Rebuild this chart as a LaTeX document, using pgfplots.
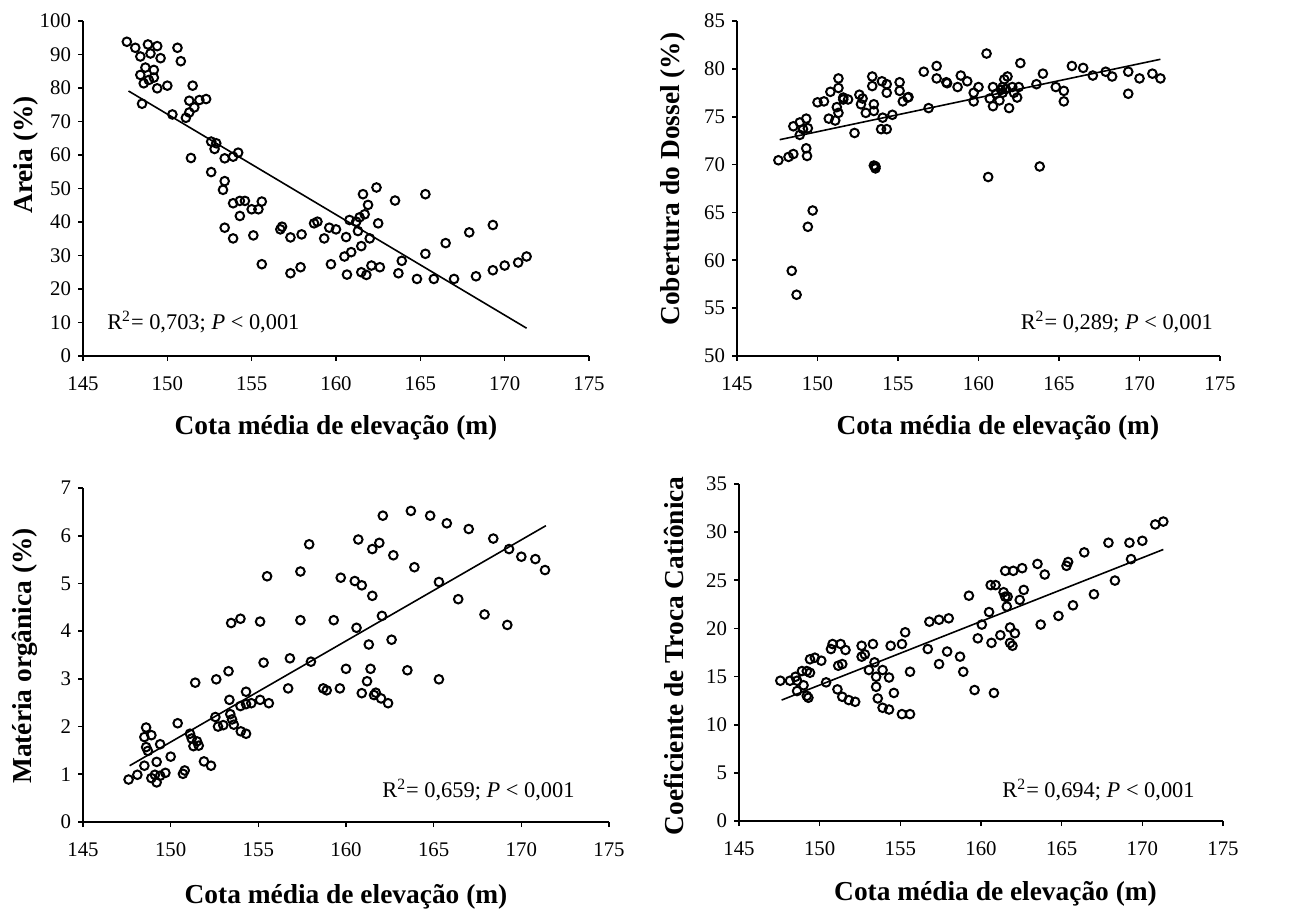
\documentclass[border=0pt]{standalone}
\usepackage{fontspec}
\setmainfont{Liberation Serif}
\usepackage{pgfplots}
\pgfplotsset{compat=1.18}
\tikzset{rtxt/.style={font=\fontsize{11.2}{13}\selectfont}}
\pgfplotsset{
  myax/.style={
    scale only axis,
    axis x line=bottom, axis y line=left,
    axis line style={-, line width=1pt},
    tick style={line width=0.8pt, black},
    major tick length=2.5pt,
    tick align=outside,
    xmin=145, xmax=175, xtick={145,150,...,175},
    tick label style={font=\fontsize{10.4}{12}\selectfont, /pgf/number format/assume math mode=true},
    xticklabel shift=4.5pt,
    label style={font=\fontsize{13.7}{15}\selectfont\bfseries},
    xlabel={Cota média de elevação (m)},
    clip=false,
  },
  pts/.style={only marks, mark=o, mark size=2.15pt, mark options={line width=1pt, black}},
  fit/.style={black, line width=0.8pt, no marks},
}
\begin{document}
\begin{tikzpicture}
\useasboundingbox (0,0) rectangle (647.5pt,455.5pt);
% Panel 1
\begin{axis}[myax, at={(41.5pt,277.5pt)}, anchor=origin, width=253pt, height=167.5pt,
  ymin=0, ymax=100, ytick={0,10,...,100},
  ylabel={Areia (\%)},
  ylabel style={at={(axis description cs:-0.1126,0.6)}, anchor=center},
  xlabel style={at={(axis description cs:0.5,0)}, anchor=base, yshift=-39.5pt}]
\addplot[pts] table[row sep=\\] {
x y\\
147.6 93.8\\ 148.1 92.0\\ 148.4 89.4\\ 148.85 93.0\\ 149.4 92.5\\ 149.0 90.3\\ 149.6 88.9\\ 148.7 86.1\\ 149.2 85.4\\ 148.4 83.9\\
148.9 82.4\\ 149.2 83.1\\ 148.6 81.4\\ 149.4 79.9\\ 150.0 80.7\\ 148.5 75.3\\ 150.6 92.0\\ 150.8 88.0\\ 150.3 72.1\\ 151.5 80.7\\
151.3 76.2\\ 151.9 76.4\\ 152.3 76.7\\ 151.6 74.2\\ 151.3 72.7\\ 151.1 71.1\\ 152.6 64.0\\ 152.9 63.5\\ 152.8 61.8\\ 154.2 60.7\\
153.4 59.0\\ 153.9 59.5\\ 151.4 59.1\\ 152.6 54.9\\ 153.4 52.2\\ 153.3 49.6\\ 153.9 45.6\\ 154.3 46.3\\ 154.6 46.3\\ 154.3 41.8\\
155.0 43.8\\ 155.4 43.8\\ 155.6 46.1\\ 153.4 38.3\\ 153.9 35.1\\ 155.1 36.0\\ 155.6 27.4\\ 156.8 38.6\\ 156.7 37.8\\ 157.3 35.4\\
157.96 36.3\\ 157.3 24.7\\ 157.9 26.5\\ 158.7 39.6\\ 158.9 40.1\\ 159.3 35.1\\ 159.6 38.3\\ 160.0 37.8\\ 160.6 35.5\\ 159.7 27.4\\
160.5 29.7\\ 160.9 31.0\\ 160.65 24.3\\ 160.8 40.6\\ 161.2 40.1\\ 161.4 41.4\\ 161.7 42.3\\ 161.9 45.1\\ 161.6 48.3\\ 162.4 50.3\\
161.3 37.3\\ 161.5 32.8\\ 162.0 35.1\\ 162.5 39.6\\ 161.5 25.0\\ 161.8 24.2\\ 162.1 27.0\\ 162.6 26.5\\ 163.5 46.4\\ 163.9 28.4\\
163.7 24.7\\ 164.8 23.0\\ 165.3 48.3\\ 165.3 30.5\\ 165.8 23.0\\ 166.5 33.7\\ 167.0 23.0\\ 167.9 36.9\\ 168.3 23.8\\ 169.3 39.1\\
169.3 25.6\\ 170.0 27.0\\ 170.8 27.9\\ 171.3 29.7\\
};
\addplot[fit] coordinates {(147.7,79.1) (171.3,8.3)};
\node[rtxt, anchor=west] at (rel axis cs:0.034,0.1) {R\textsuperscript{2}= 0,703; \textit{P} < 0,001};
\end{axis}
% Panel 2
\begin{axis}[myax, at={(368.5pt,277.5pt)}, anchor=origin, width=241.5pt, height=167.5pt,
  ymin=50, ymax=85, ytick={50,55,...,85},
  ylabel={Cobertura do Dossel (\%)},
  ylabel style={at={(axis description cs:-0.1325,0.528)}, anchor=center},
  xlabel style={at={(axis description cs:0.54,0)}, anchor=base, yshift=-39.5pt}]
\addplot[pts] table[row sep=\\] {
x y\\
147.57 70.45\\ 148.2 70.8\\ 148.5 71.1\\ 148.5 74.0\\ 148.9 74.4\\ 149.3 74.8\\ 149.1 73.7\\ 149.4 73.8\\ 148.9 73.1\\ 149.3 71.7\\
149.35 70.9\\ 149.7 65.2\\ 149.4 63.5\\ 148.4 58.9\\ 148.7 56.4\\ 150.0 76.5\\ 150.4 76.6\\ 150.7 74.8\\ 150.8 77.6\\ 151.1 74.6\\
151.2 76.0\\ 151.3 78.0\\ 151.3 79.0\\ 151.3 75.4\\ 151.6 77.0\\ 151.9 76.8\\ 151.6 76.8\\ 152.3 73.3\\ 152.6 77.3\\ 152.7 76.3\\
153.0 75.4\\ 152.8 76.9\\ 153.4 79.2\\ 153.4 78.2\\ 153.5 76.3\\ 153.5 75.6\\ 153.6 69.8\\ 153.6 69.6\\ 153.5 69.9\\ 154.0 78.7\\
154.3 78.4\\ 154.3 77.5\\ 154.05 74.9\\ 153.95 73.7\\ 154.3 73.7\\ 154.65 75.2\\ 155.1 78.6\\ 155.1 77.7\\ 155.3 76.6\\ 155.6 77.0\\
155.65 77.05\\ 156.6 79.7\\ 156.9 75.9\\ 157.4 80.3\\ 157.4 79.0\\ 158.0 78.6\\ 158.05 78.5\\ 158.7 78.1\\ 158.9 79.3\\ 159.3 78.7\\
159.7 77.5\\ 159.7 76.6\\ 160.0 78.1\\ 160.5 81.6\\ 160.6 68.7\\ 160.7 76.9\\ 160.9 78.1\\ 160.9 76.1\\ 161.1 77.4\\ 161.3 76.7\\
161.4 77.8\\ 161.5 78.1\\ 161.5 77.5\\ 161.6 78.9\\ 161.8 79.2\\ 161.7 77.9\\ 161.9 75.9\\ 162.1 78.1\\ 162.2 77.5\\ 162.4 77.0\\
162.5 78.1\\ 162.6 80.6\\ 163.6 78.4\\ 163.8 69.8\\ 164.0 79.5\\ 164.8 78.1\\ 165.3 77.7\\ 165.3 76.6\\ 165.8 80.3\\ 166.5 80.1\\
167.1 79.3\\ 167.9 79.7\\ 168.3 79.2\\ 169.3 79.7\\ 169.3 77.4\\ 170.0 79.0\\ 170.8 79.5\\ 171.3 79.0\\
};
\addplot[fit] coordinates {(147.65,72.6) (171.3,81.0)};
\node[rtxt, anchor=east] at (rel axis cs:1.0,0.1) {R\textsuperscript{2}= 0,289; \textit{P} < 0,001};
\end{axis}
% Panel 3
\begin{axis}[myax, at={(41.5pt,44.5pt)}, anchor=origin, width=263pt, height=167pt,
  ymin=0, ymax=7, ytick={0,1,...,7},
  ylabel={Matéria orgânica (\%)},
  ylabel style={at={(axis description cs:-0.11,0.497)}, anchor=center},
  xlabel style={at={(axis description cs:0.5,0)}, anchor=base, yshift=-40.5pt}]
\addplot[pts] table[row sep=\\] {
x y\\
147.6 0.89\\ 148.1 0.99\\ 148.5 1.18\\ 148.9 0.92\\ 149.1 0.99\\ 149.2 0.83\\ 149.4 0.97\\ 149.7 1.03\\ 149.2 1.26\\ 148.6 1.98\\
148.5 1.78\\ 148.9 1.82\\ 148.6 1.57\\ 148.7 1.49\\ 149.4 1.63\\ 150.0 1.37\\ 150.4 2.07\\ 150.7 1.01\\ 150.8 1.08\\ 151.1 1.85\\
151.2 1.75\\ 151.3 1.59\\ 151.5 1.69\\ 151.6 1.60\\ 151.4 2.92\\ 151.9 1.27\\ 152.3 1.18\\ 152.55 2.2\\ 152.7 2.0\\ 153.0 2.03\\
152.6 2.99\\ 153.3 3.16\\ 153.35 2.56\\ 153.4 2.26\\ 153.5 2.15\\ 153.6 2.04\\ 154.0 1.90\\ 154.3 1.85\\ 153.45 4.17\\ 153.98 4.26\\
153.98 2.43\\ 154.3 2.73\\ 154.3 2.47\\ 154.6 2.49\\ 155.1 2.56\\ 155.6 2.49\\ 155.3 3.34\\ 155.1 4.2\\ 155.5 5.15\\ 156.7 2.8\\
156.8 3.43\\ 157.4 4.23\\ 157.4 5.25\\ 157.9 5.82\\ 158.0 3.36\\ 158.7 2.8\\ 158.9 2.76\\ 159.65 2.8\\ 159.3 4.23\\ 159.7 5.12\\
160.0 3.21\\ 160.5 5.05\\ 160.9 4.96\\ 160.7 5.92\\ 160.6 4.07\\ 160.9 2.7\\ 161.2 2.95\\ 161.3 3.72\\ 161.4 3.21\\ 161.5 4.74\\
161.5 5.72\\ 161.9 5.85\\ 161.6 2.66\\ 161.7 2.71\\ 162.0 2.59\\ 162.05 4.32\\ 162.1 6.42\\ 162.4 2.49\\ 162.6 3.82\\ 162.7 5.59\\
163.5 3.18\\ 163.7 6.52\\ 163.9 5.34\\ 164.8 6.42\\ 165.3 5.03\\ 165.3 2.99\\ 165.75 6.26\\ 166.4 4.67\\ 167.0 6.14\\ 167.9 4.35\\
168.4 5.94\\ 169.2 4.13\\ 169.3 5.72\\ 170.0 5.56\\ 170.8 5.51\\ 171.35 5.28\\
};
\addplot[fit] coordinates {(147.66,1.18) (171.4,6.21)};
\node[rtxt, anchor=east] at (rel axis cs:0.948,0.096) {R\textsuperscript{2}= 0,659; \textit{P} < 0,001};
\end{axis}
% Panel 4
\begin{axis}[myax, at={(369.5pt,45pt)}, anchor=origin, width=242pt, height=168.5pt,
  ymin=0, ymax=35, ytick={0,5,...,35},
  ylabel={Coeficiente de Troca Catiônica},
  ylabel style={at={(axis description cs:-0.134,0.49)}, anchor=center},
  xlabel style={at={(axis description cs:0.53,0)}, anchor=base, yshift=-39.5pt}]
\addplot[pts] table[row sep=\\] {
x y\\
147.56 14.57\\ 148.16 14.57\\ 148.5 14.98\\ 148.6 14.57\\ 148.9 15.57\\ 149.2 15.57\\ 149.4 15.4\\ 149.0 14.1\\ 148.6 13.5\\ 149.2 13.0\\
149.3 12.8\\ 149.4 16.8\\ 149.7 16.96\\ 150.1 16.65\\ 150.4 14.4\\ 150.7 17.86\\ 150.8 18.38\\ 151.3 18.38\\ 151.6 17.76\\ 151.15 16.13\\
151.4 16.3\\ 151.1 13.67\\ 151.4 12.9\\ 151.8 12.56\\ 152.2 12.38\\ 152.6 18.2\\ 152.6 17.07\\ 152.8 17.3\\ 153.05 15.68\\ 153.3 18.38\\
153.4 16.48\\ 153.5 14.98\\ 153.5 13.94\\ 153.6 12.73\\ 153.9 15.68\\ 154.3 14.9\\ 153.9 11.76\\ 154.3 11.58\\ 154.4 18.2\\ 154.6 13.3\\
155.1 11.1\\ 155.6 11.1\\ 155.1 18.38\\ 155.3 19.6\\ 155.6 15.5\\ 156.7 17.86\\ 156.8 20.7\\ 157.4 20.9\\ 158.0 21.05\\ 157.4 16.3\\
157.9 17.6\\ 158.7 17.07\\ 158.9 15.5\\ 159.25 23.4\\ 159.6 13.6\\ 159.8 18.97\\ 160.05 20.4\\ 160.5 21.7\\ 160.6 24.5\\ 160.9 24.5\\
160.65 18.5\\ 160.8 13.3\\ 161.2 19.3\\ 161.4 23.76\\ 161.5 25.98\\ 161.5 23.3\\ 161.6 22.27\\ 161.65 23.3\\ 161.8 20.1\\ 161.8 18.5\\
161.95 18.2\\ 162.1 19.5\\ 162.0 25.98\\ 162.4 22.96\\ 162.55 26.26\\ 162.65 24.0\\ 163.5 26.7\\ 163.7 20.4\\ 163.95 25.6\\ 164.8 21.3\\
165.3 26.5\\ 165.4 26.9\\ 165.7 22.4\\ 166.4 27.9\\ 167.0 23.55\\ 167.9 28.9\\ 168.3 24.97\\ 169.2 28.9\\ 169.3 27.2\\ 170.0 29.1\\
170.8 30.8\\ 171.3 31.1\\
};
\addplot[fit] coordinates {(147.64,12.56) (171.3,28.2)};
\node[rtxt, anchor=east] at (rel axis cs:0.956,0.092) {R\textsuperscript{2}= 0,694; \textit{P} < 0,001};
\end{axis}
\end{tikzpicture}
\end{document}
